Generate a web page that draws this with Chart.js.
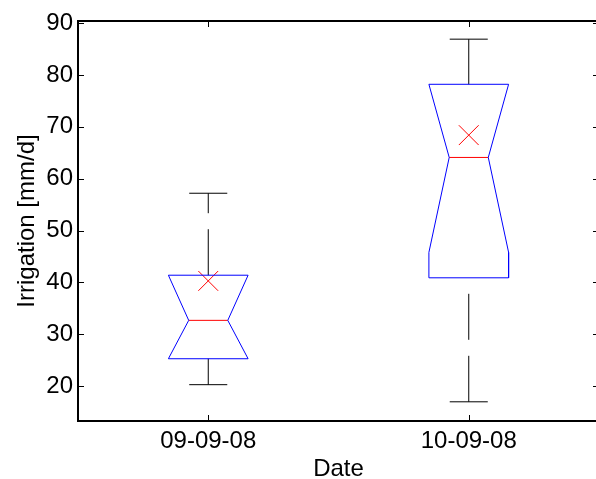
<!DOCTYPE html>
<html>
<head>
<meta charset="utf-8">
<title>Irrigation box plot</title>
<script src="https://cdn.jsdelivr.net/npm/chart.js@4.4.1/dist/chart.umd.min.js"></script>
<style>
    html, body { margin: 0; padding: 0; background: #fff; overflow: hidden; }
    #wrap { position: relative; width: 600px; height: 479px; }
</style>
</head>
<body>
<div id="wrap"><canvas id="box_chart" width="600" height="479"></canvas></div>
<script>
// Dates on the x axis (box positions 1, 2, ...)
const dates = ['09-09-08', '10-09-08'];

// Box plot statistics per date, irrigation in mm/d
const whiskerLow  = [20.3, 17.0];
const quart1      = [25.3, 40.9];
const notchLow    = [25.3, 45.8];
const median      = [32.7, 64.1];
const notchHigh   = [41.4, 78.2];
const quart3      = [41.4, 78.2];
const whiskerHigh = [57.2, 86.9];
const mean        = [40.3, 68.4];

const yTicks = [20, 30, 40, 50, 60, 70, 80, 90];

// Box geometry in x units
const boxHalf   = 0.153;
const notchHalf = 0.075;
const capHalf   = 0.073;

var datasets = [];

dates.forEach((d, i) => {
    var x = i + 1;

    // Notched box outline
    datasets.push({
        data: [
            {x: x - boxHalf, y: quart1[i]},
            {x: x - boxHalf, y: notchLow[i]},
            {x: x - notchHalf, y: median[i]},
            {x: x - boxHalf, y: notchHigh[i]},
            {x: x - boxHalf, y: quart3[i]},
            {x: x + boxHalf, y: quart3[i]},
            {x: x + boxHalf, y: notchHigh[i]},
            {x: x + notchHalf, y: median[i]},
            {x: x + boxHalf, y: notchLow[i]},
            {x: x + boxHalf, y: quart1[i]},
            {x: x - boxHalf, y: quart1[i]}
        ],
        borderColor: '#0000ff'
    });

    // Median line
    datasets.push({
        data: [{x: x - notchHalf, y: median[i]}, {x: x + notchHalf, y: median[i]}],
        borderColor: '#ff0000'
    });

    // Whiskers (dashed), upper one drawn upwards from the box
    datasets.push({
        data: [{x: x, y: quart3[i]}, {x: x, y: whiskerHigh[i]}],
        borderColor: '#000000',
        borderDash: [46, 16]
    });
    datasets.push({
        data: [{x: x, y: whiskerLow[i]}, {x: x, y: quart1[i]}],
        borderColor: '#000000',
        borderDash: [46, 16]
    });

    // Whisker caps
    datasets.push({
        data: [{x: x - capHalf, y: whiskerHigh[i]}, {x: x + capHalf, y: whiskerHigh[i]}],
        borderColor: '#000000'
    });
    datasets.push({
        data: [{x: x - capHalf, y: whiskerLow[i]}, {x: x + capHalf, y: whiskerLow[i]}],
        borderColor: '#000000'
    });
});

datasets.forEach(ds => {
    ds.showLine = true;
    ds.pointRadius = 0;
    ds.borderWidth = 1;
});

// Mean markers
datasets.push({
    data: mean.map((m, i) => ({x: i + 1, y: m})),
    showLine: false,
    pointStyle: 'crossRot',
    pointRadius: 14,
    borderColor: '#ff0000',
    borderWidth: 1
});

// Inward tick marks and a closed frame round the plot area
const framePlugin = {
    id: 'frame',
    afterDraw(chart) {
        const ctx = chart.ctx;
        const a = chart.chartArea;
        const xs = chart.scales.x;
        const ys = chart.scales.y;
        ctx.save();
        ctx.strokeStyle = '#000';
        ctx.lineWidth = 1;
        ctx.beginPath();
        yTicks.forEach(v => {
            var py = Math.round(ys.getPixelForValue(v)) + 0.5;
            ctx.moveTo(a.left, py); ctx.lineTo(a.left + 6, py);
            ctx.moveTo(a.right, py); ctx.lineTo(a.right - 6, py);
        });
        dates.forEach((d, i) => {
            var px = Math.round(xs.getPixelForValue(i + 1)) + 0.5;
            ctx.moveTo(px, a.bottom); ctx.lineTo(px, a.bottom - 6);
            ctx.moveTo(px, a.top); ctx.lineTo(px, a.top + 6);
        });
        ctx.stroke();
        ctx.lineWidth = 2;
        ctx.strokeRect(a.left, a.top, a.right - a.left, a.bottom - a.top);
        ctx.restore();
    }
};

const tickFont = { family: '"Liberation Sans", Arial, sans-serif', size: 24 };

const ctx = document.getElementById('box_chart');

var chart = new Chart(ctx, {
    type: 'scatter',
    data: { datasets: datasets },
    options: {
        responsive: false,
        animation: false,
        layout: {
            autoPadding: false,
            padding: { top: 21, right: 1, left: 0, bottom: 0 }
        },
        plugins: {
            legend: { display: false },
            tooltip: { enabled: false }
        },
        scales: {
            x: {
                type: 'linear',
                min: 0.5,
                max: 2.5,
                grid: { display: false, drawTicks: false, tickLength: 0 },
                border: { display: false },
                afterBuildTicks: (scale) => {
                    scale.ticks = dates.map((d, i) => ({ value: i + 1 }));
                },
                afterFit: (scale) => {
                    scale.height = 58;
                    scale.paddingLeft = 0;
                    scale.paddingRight = 0;
                },
                ticks: {
                    color: '#000',
                    font: tickFont,
                    padding: 6,
                    maxRotation: 0,
                    autoSkip: false,
                    callback: (v) => dates[v - 1]
                },
                title: {
                    display: true,
                    text: 'Date',
                    color: '#000',
                    font: tickFont,
                    padding: { top: 0, bottom: -5 }
                }
            },
            y: {
                min: 13.3,
                max: 90.4,
                grid: { display: false, drawTicks: false, tickLength: 0 },
                border: { display: false },
                afterBuildTicks: (scale) => {
                    scale.ticks = yTicks.map(v => ({ value: v }));
                },
                afterFit: (scale) => { scale.width = 78; },
                ticks: {
                    color: '#000',
                    font: tickFont,
                    padding: 5,
                    autoSkip: false
                },
                title: {
                    display: true,
                    text: 'Irrigation [mm/d]',
                    color: '#000',
                    font: tickFont,
                    padding: { top: 13, bottom: 0 }
                }
            }
        }
    },
    plugins: [framePlugin]
});
</script>
</body>
</html>
